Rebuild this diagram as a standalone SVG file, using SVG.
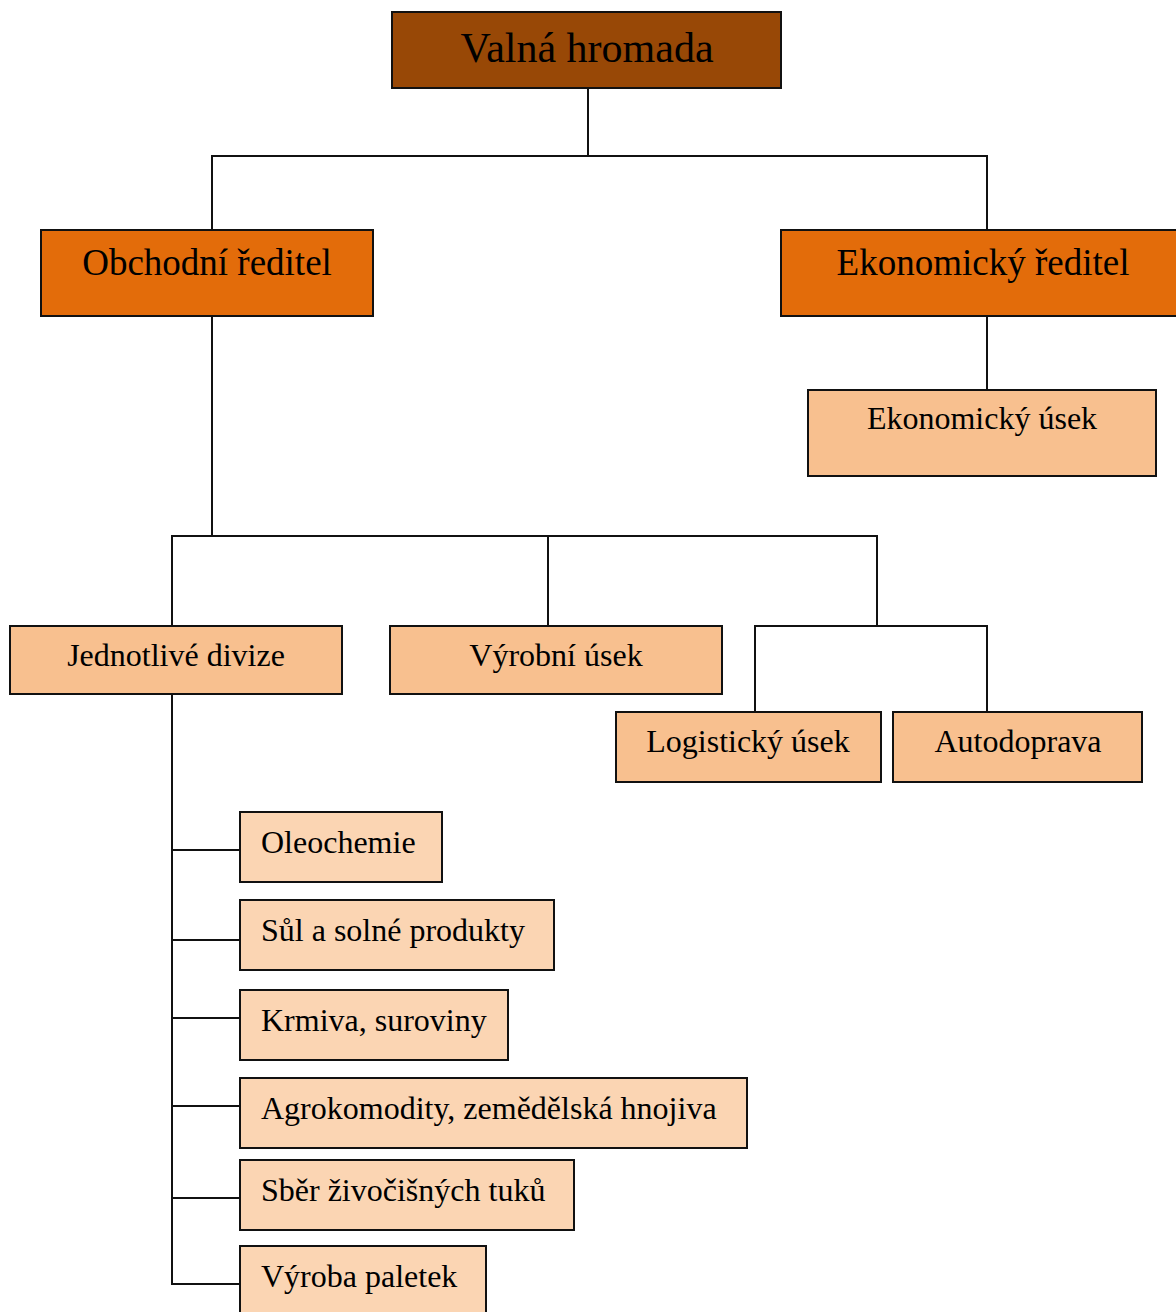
<svg xmlns="http://www.w3.org/2000/svg" width="1176" height="1312" viewBox="0 0 1176 1312">
<style>
.box{stroke:#111;stroke-width:2}
.top{fill:#984806}
.dir{fill:#E36C0A}
.mid{fill:#F8C08F}
.low{fill:#FBD5B3}
text{font-family:"Liberation Serif","Times New Roman",serif;fill:#000}
.c{text-anchor:middle}
.s{font-size:32px}
.conn line{stroke:#111;stroke-width:2}
</style>
<rect width="1176" height="1312" fill="#fff"/>
<g class="conn">
<line x1="588" y1="88" x2="588" y2="156"/>
<line x1="211" y1="156" x2="988" y2="156"/>
<line x1="212" y1="156" x2="212" y2="230"/>
<line x1="987" y1="156" x2="987" y2="230"/>
<line x1="987" y1="316" x2="987" y2="390"/>
<line x1="212" y1="316" x2="212" y2="536"/>
<line x1="171" y1="536" x2="878" y2="536"/>
<line x1="172" y1="536" x2="172" y2="626"/>
<line x1="548" y1="536" x2="548" y2="626"/>
<line x1="877" y1="536" x2="877" y2="626"/>
<line x1="754" y1="626" x2="988" y2="626"/>
<line x1="755" y1="626" x2="755" y2="712"/>
<line x1="987" y1="626" x2="987" y2="712"/>
<line x1="172" y1="694" x2="172" y2="1285"/>
<line x1="172" y1="850" x2="240" y2="850"/>
<line x1="172" y1="940" x2="240" y2="940"/>
<line x1="172" y1="1018" x2="240" y2="1018"/>
<line x1="172" y1="1106" x2="240" y2="1106"/>
<line x1="172" y1="1198" x2="240" y2="1198"/>
<line x1="171" y1="1284" x2="240" y2="1284"/>
</g>
<g id="valna-hromada"><rect class="box top" x="392" y="12" width="389" height="76"/><text class="c" x="587" y="62" font-size="42">Valná hromada</text></g>
<g id="obchodni-reditel"><rect class="box dir" x="41" y="230" width="332" height="86"/><text class="c" x="207" y="275" font-size="37">Obchodní ředitel</text></g>
<g id="ekonomicky-reditel"><rect class="box dir" x="781" y="230" width="400" height="86"/><text class="c" x="983" y="275" font-size="37">Ekonomický ředitel</text></g>
<g id="ekonomicky-usek"><rect class="box mid" x="808" y="390" width="348" height="86"/><text class="c s" x="982" y="429">Ekonomický úsek</text></g>
<g id="jednotlive-divize"><rect class="box mid" x="10" y="626" width="332" height="68"/><text class="c s" x="176" y="666">Jednotlivé divize</text></g>
<g id="vyrobni-usek"><rect class="box mid" x="390" y="626" width="332" height="68"/><text class="c s" x="556" y="666">Výrobní úsek</text></g>
<g id="logisticky-usek"><rect class="box mid" x="616" y="712" width="265" height="70"/><text class="c s" x="748" y="752">Logistický úsek</text></g>
<g id="autodoprava"><rect class="box mid" x="893" y="712" width="249" height="70"/><text class="c s" x="1018" y="752">Autodoprava</text></g>
<g id="oleochemie"><rect class="box low" x="240" y="812" width="202" height="70"/><text class="s" x="261" y="853">Oleochemie</text></g>
<g id="sul"><rect class="box low" x="240" y="900" width="314" height="70"/><text class="s" x="261" y="941">Sůl a solné produkty</text></g>
<g id="krmiva"><rect class="box low" x="240" y="990" width="268" height="70"/><text class="s" x="261" y="1031">Krmiva, suroviny</text></g>
<g id="agrokomodity"><rect class="box low" x="240" y="1078" width="507" height="70"/><text class="s" x="261" y="1119">Agrokomodity, zemědělská hnojiva</text></g>
<g id="sber"><rect class="box low" x="240" y="1160" width="334" height="70"/><text class="s" x="261" y="1201">Sběr živočišných tuků</text></g>
<g id="vyroba-paletek"><rect class="box low" x="240" y="1246" width="246" height="80"/><text class="s" x="261" y="1287">Výroba paletek</text></g>
</svg>
